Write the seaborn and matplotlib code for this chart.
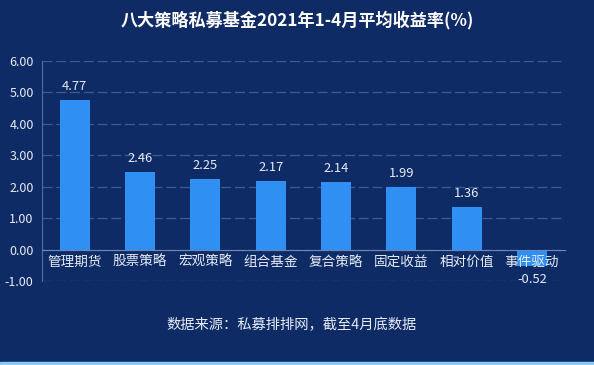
import matplotlib
matplotlib.use("Agg")
import matplotlib.pyplot as plt
import seaborn as sns
import pandas as pd

categories = ["管理期货", "股票策略", "宏观策略", "组合基金", "复合策略", "固定收益", "相对价值", "事件驱动"]
values = [4.77, 2.46, 2.25, 2.17, 2.14, 1.99, 1.36, -0.52]
yticks = [-1, 0, 1, 2, 3, 4, 5, 6]

sns.set_theme(style="dark")
plt.rcParams['font.family'] = ['Noto Sans CJK SC', 'DejaVu Sans']
plt.rcParams['axes.unicode_minus'] = False

BG = "#0f2b66"
BAR = "#2f8ff2"
TXT = "#e6ecf5"
GRID = "#3b5c96"

fig = plt.figure(figsize=(5.94, 3.65), dpi=100, facecolor=BG)
ax = fig.add_axes([0.0707, 0.230, 0.880, 0.603])
ax.set_facecolor(BG)

df = pd.DataFrame({"cat": categories, "val": values})
sns.barplot(data=df, x="cat", y="val", color=BAR, width=0.46, ax=ax,
            saturation=1, linewidth=0, edgecolor=BAR)

ax.set_ylim(-1, 6)
ax.set_yticks(yticks)
ax.set_yticklabels([f"{v:.2f}" for v in yticks], color=TXT, fontsize=9)
ax.set_xlabel("")
ax.set_ylabel("")
ax.set_xlim(-0.5, len(categories) - 0.5)

ax.grid(axis="y", color=GRID, linestyle=(0, (8, 3)), linewidth=0.9)
ax.set_axisbelow(True)
ax.xaxis.set_zorder(5)
for s in ["top", "right"]:
    ax.spines[s].set_visible(False)
ax.spines["left"].set_color("#4f6fa5")
ax.spines["left"].set_linewidth(0.8)
ax.spines["bottom"].set_position(("data", 0))
ax.spines["bottom"].set_color("#6a88b8")
ax.spines["bottom"].set_linewidth(0.8)
ax.tick_params(axis="x", colors=TXT, labelsize=9.8, length=0, pad=4)
ax.tick_params(axis="y", colors=TXT, labelsize=9, length=0, pad=6)
for lab in ax.get_xticklabels():
    lab.set_color(TXT)

for cont in ax.containers:
    ax.bar_label(cont, labels=[f"{v:.2f}" for v in values], color=TXT, fontsize=9.3, padding=5)

fig.text(0.5, 0.945, "八大策略私募基金2021年1-4月平均收益率(%)", ha="center", va="center",
         color="white", fontsize=12.3, fontweight="bold")
fig.text(0.49, 0.11, "数据来源：私募排排网，截至4月底数据", ha="center", va="center",
         color=TXT, fontsize=10.3)

# light strip at the bottom edge
fig.add_artist(plt.Rectangle((0, 0), 1, 0.008, transform=fig.transFigure,
                             color="#8ccaf2", zorder=10))

fig.savefig("out.png", dpi=100, facecolor=BG)
